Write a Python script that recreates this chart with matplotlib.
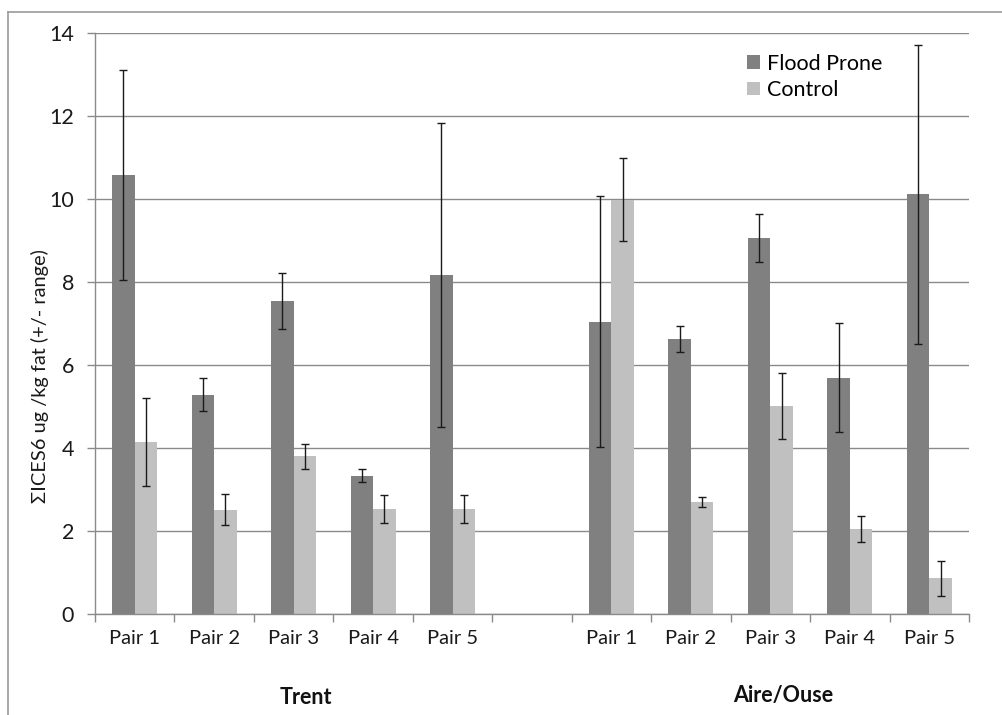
import matplotlib
matplotlib.use("Agg")
import matplotlib.pyplot as plt
from matplotlib.lines import Line2D
import numpy as np

# Sum of ICES6 PCB congeners per pair of sites, two river systems
pairs = ["Pair 1", "Pair 2", "Pair 3", "Pair 4", "Pair 5"]
rivers = ["Trent", "Aire/Ouse"]

trent_flood = [10.59, 5.29, 7.54, 3.34, 8.18]
trent_flood_err = [2.53, 0.40, 0.68, 0.15, 3.66]
trent_control = [4.16, 2.52, 3.81, 2.54, 2.54]
trent_control_err = [1.06, 0.37, 0.30, 0.33, 0.33]

aire_flood = [7.05, 6.63, 9.07, 5.70, 10.12]
aire_flood_err = [3.02, 0.32, 0.58, 1.31, 3.60]
aire_control = [9.98, 2.70, 5.01, 2.05, 0.87]
aire_control_err = [1.00, 0.12, 0.80, 0.31, 0.42]

series_names = ["Flood Prone", "Control"]
dark = "#808080"
light = "#c0c0c0"
grid_col = "#8a8a8a"

plt.rcParams["font.family"] = ["Lato", "DejaVu Sans"]

W, H = 1002, 715
fig = plt.figure(figsize=(W / 100, H / 100), dpi=100)

# outer chart frame
fig.add_artist(Line2D([8 / W, 8 / W], [0, 1 - 12 / H], color="#9a9a9a", lw=1.2,
                      transform=fig.transFigure))
fig.add_artist(Line2D([8 / W, 1], [1 - 12 / H, 1 - 12 / H], color="#9a9a9a", lw=1.2,
                      transform=fig.transFigure))

left, right, top, bottom = 95, 969, 33, 614.3
ax = fig.add_axes([left / W, 1 - bottom / H, (right - left) / W, (bottom - top) / H])

# category slots: 0-4 Trent, 5 empty, 6-10 Aire/Ouse
pos_trent = np.arange(5)
pos_aire = np.arange(6, 11)
positions = np.concatenate([pos_trent, pos_aire])
flood = trent_flood + aire_flood
flood_err = trent_flood_err + aire_flood_err
control = trent_control + aire_control
control_err = trent_control_err + aire_control_err

bw = 0.283
ekw = dict(ecolor="#1a1a1a", elinewidth=1.0, capsize=3.2, capthick=1.0)
ax.bar(positions - bw / 2, flood, bw, color=dark, label=series_names[0], zorder=2,
       yerr=flood_err, error_kw=ekw)
ax.bar(positions + bw / 2, control, bw, color=light, label=series_names[1], zorder=2,
       yerr=control_err, error_kw=ekw)

ax.set_xlim(-0.5, 10.5)
ax.set_ylim(0, 14)
ax.set_yticks(np.arange(0, 15, 2))
ax.yaxis.grid(True, color=grid_col, lw=1.0, zorder=0)
ax.set_axisbelow(True)

ax.set_xticks(np.arange(-0.5, 11, 1))
ax.set_xticklabels([])
ax.set_xticks(positions, minor=True)
ax.set_xticklabels(pairs + pairs, minor=True, fontsize=14.5, color="#1a1a1a")
ax.tick_params(axis="x", which="major", length=5.5, color=grid_col, width=1.0)
ax.tick_params(axis="x", which="minor", length=0, pad=11)
ax.tick_params(axis="y", length=6, color=grid_col, width=1.0, labelsize=15.5,
               labelcolor="#1a1a1a", pad=9)

for s in ["top", "right"]:
    ax.spines[s].set_visible(False)
for s in ["left", "bottom"]:
    ax.spines[s].set_color(grid_col)
    ax.spines[s].set_linewidth(1.0)

# river group labels
ax.text(pos_trent.mean() + 0.15, -2.0, rivers[0], ha="center", va="center",
        fontsize=15.5, fontweight="bold", color="#111111")
ax.text(pos_aire.mean() + 0.16, -1.95, rivers[1], ha="center", va="center",
        fontsize=15.5, fontweight="bold", color="#111111")

fig.text(40 / W, 1 - 376 / H, "ΣICES6 ug /kg fat (+/- range)", rotation=90,
         ha="center", va="center", fontsize=14.4, color="#1a1a1a",
         family=["Lato", "DejaVu Sans"])

leg = ax.legend(loc="upper left", bbox_to_anchor=((738 - left) / (right - left), (bottom - 45) / (bottom - top)),
                frameon=False, fontsize=15.5, handlelength=0.62, handleheight=0.62,
                handletextpad=0.35, labelspacing=0.3, borderaxespad=0)

fig.savefig("out.png", dpi=100)
